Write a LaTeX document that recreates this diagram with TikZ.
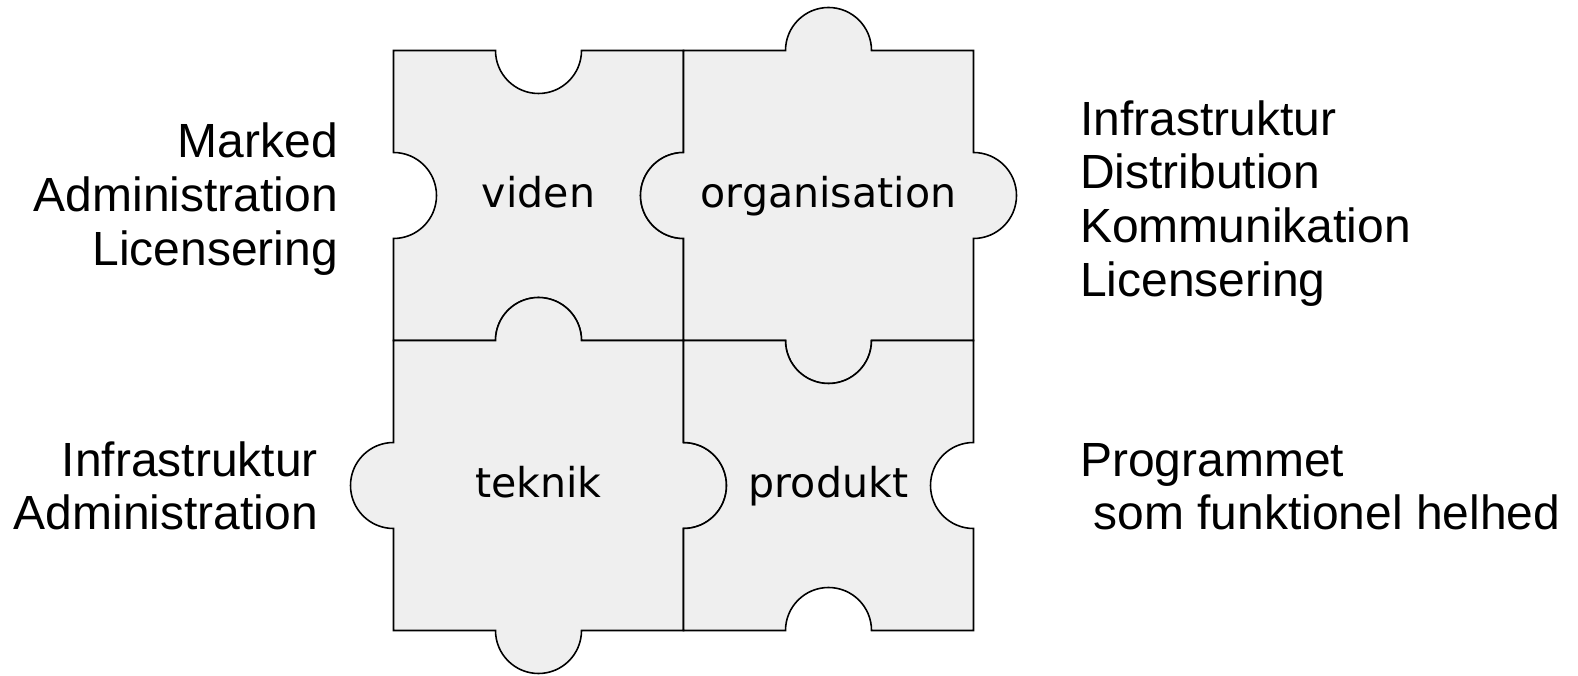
\documentclass[tikz,border=0pt]{standalone}
\usepackage{fontspec}
\setmainfont{Liberation Sans}
\newfontfamily\piecefont{DejaVu Sans}
\usepackage{tikz}
\usepackage{xcolor}
\definecolor{piecefill}{HTML}{efefef}

\begin{document}
\begin{tikzpicture}[x=0.1mm,
        y=0.1mm,
        piece/.style={
        draw=black,
        fill=piecefill,
        line width=0.45pt},
        piecename/.style={
        font=\piecefont\fontsize{11.7}{14}\selectfont,
        inner sep=0pt,
        anchor=base},
        facts/.style={
        font=\fontsize{13.65}{15.3}\selectfont,
        inner sep=0pt}]

        \useasboundingbox (0,0) rectangle (1578,675);

        % the four pieces, tabs are half circles of radius 43
        \draw[piece] (393.5,624.5) -- (495.5,624.5) arc[start angle=180, end angle=360, radius=43]
            -- (683.5,624.5) -- (683.5,522.5) arc[start angle=90, end angle=270, radius=43]
            -- (683.5,334.5) -- (581.5,334.5) arc[start angle=0, end angle=180, radius=43]
            -- (393.5,334.5) -- (393.5,436.5) arc[start angle=-90, end angle=90, radius=43]
            -- cycle; % viden
        \draw[piece] (683.5,624.5) -- (785.5,624.5) arc[start angle=180, end angle=0, radius=43]
            -- (973.5,624.5) -- (973.5,522.5) arc[start angle=90, end angle=-90, radius=43]
            -- (973.5,334.5) -- (871.5,334.5) arc[start angle=0, end angle=-180, radius=43]
            -- (683.5,334.5) -- (683.5,436.5) arc[start angle=-90, end angle=-270, radius=43]
            -- cycle; % organisation
        \draw[piece] (393.5,334.5) -- (495.5,334.5) arc[start angle=180, end angle=0, radius=43]
            -- (683.5,334.5) -- (683.5,232.5) arc[start angle=90, end angle=-90, radius=43]
            -- (683.5,44.5) -- (581.5,44.5) arc[start angle=0, end angle=-180, radius=43]
            -- (393.5,44.5) -- (393.5,146.5) arc[start angle=-90, end angle=-270, radius=43]
            -- cycle; % teknik
        \draw[piece] (683.5,334.5) -- (785.5,334.5) arc[start angle=180, end angle=360, radius=43]
            -- (973.5,334.5) -- (973.5,232.5) arc[start angle=90, end angle=270, radius=43]
            -- (973.5,44.5) -- (871.5,44.5) arc[start angle=0, end angle=180, radius=43]
            -- (683.5,44.5) -- (683.5,146.5) arc[start angle=-90, end angle=90, radius=43]
            -- cycle; % produkt

        \node[piecename] (viden) at (538.5,467.5) {viden};
        \node[piecename] (organisation) at (828.5,467.5) {organisation};
        \node[piecename] (teknik) at (538.5,177.5) {teknik};
        \node[piecename] (produkt) at (828.5,177.5) {produkt};

        % base anchor sits on the last line
        \node[facts, align=right, anchor=base east] (videnfacts) at (338.5,409.5) {Marked\\Administration\\Licensering};
        \node[facts, align=left, anchor=base west] (orgfacts) at (1079.5,378.5) {Infrastruktur\\Distribution\\Kommunikation\\Licensering};
        \node[facts, align=right, anchor=base east] (teknikfacts) at (318.5,145) {Infrastruktur\\Administration};
        \node[facts, align=left, anchor=base west] (produktfacts) at (1079.5,145) {Programmet\\\hspace*{0.278em}som funktionel helhed};
\end{tikzpicture}
\end{document}
